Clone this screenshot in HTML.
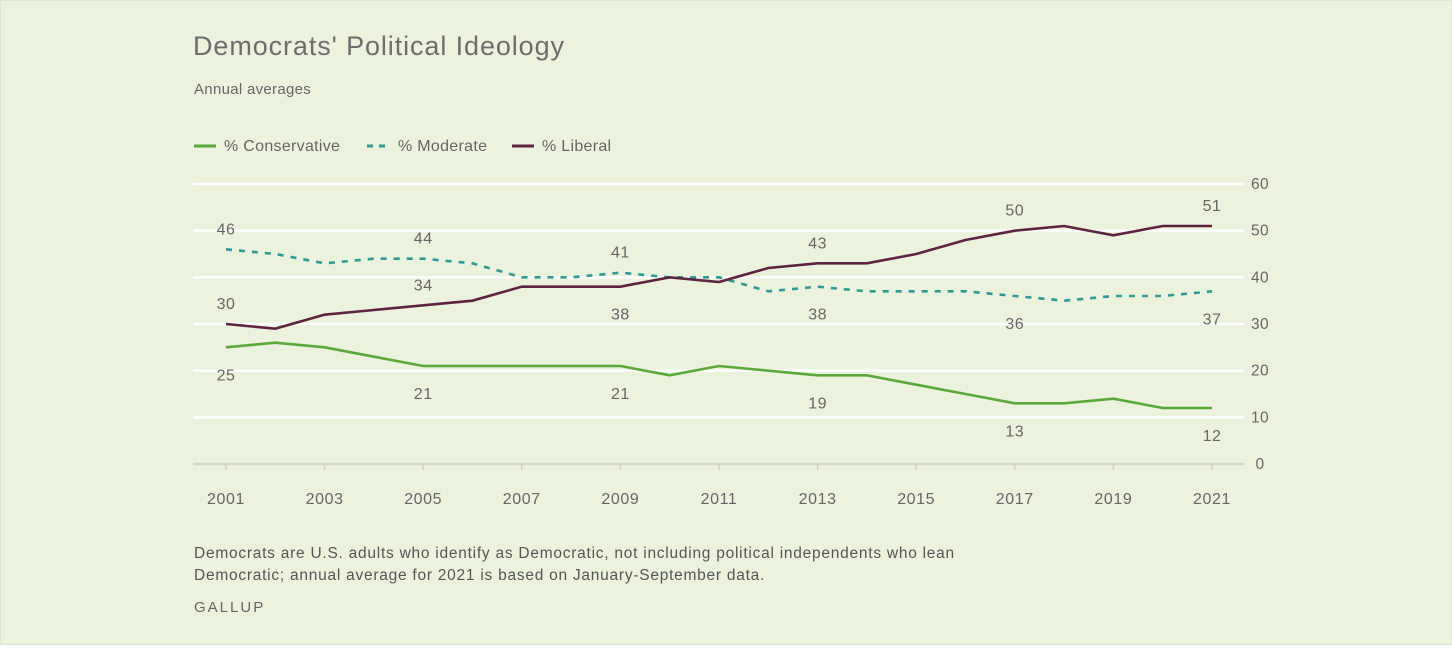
<!DOCTYPE html>
<html><head><meta charset="utf-8"><style>
body{margin:0;background:#fff}
#wrap{position:relative;width:1450px;height:643px;background:#ebf3dc;border:1px solid #dfe6d2;font-family:"Liberation Sans",sans-serif;color:#666}
svg text{font-family:"Liberation Sans",sans-serif}
</style></head><body>
<div id="wrap">
<svg width="1450" height="643">
<text x="192" y="54" font-size="27" letter-spacing="0.9" fill="#6d6d6d">Democrats' Political Ideology</text>
<text x="193" y="93" font-size="15" letter-spacing="0.3" fill="#666">Annual averages</text>
<g>
<g><line x1="193" y1="145" x2="215" y2="145" stroke="#5aaa38" stroke-width="3"/><text x="223" y="150" font-size="16" letter-spacing="0.3" fill="#666">% Conservative</text></g>
<g><line x1="366" y1="145" x2="388" y2="145" stroke="#2b9c95" stroke-width="3" stroke-dasharray="6,6"/><text x="397" y="150" font-size="16" letter-spacing="0.3" fill="#666">% Moderate</text></g>
<g><line x1="511" y1="145" x2="533" y2="145" stroke="#60233f" stroke-width="3"/><text x="541" y="150" font-size="16" letter-spacing="0.3" fill="#666">% Liberal</text></g>
</g>
<g id="grid"></g><g id="series"></g><g id="labels"></g>
</svg>
<div style="position:absolute;left:193px;top:542px;font-size:15.5px;letter-spacing:0.75px;line-height:22px;color:#555">Democrats are U.S. adults who identify as Democratic, not including political independents who lean<br>Democratic; annual average for 2021 is based on January-September data.</div>
<div style="position:absolute;left:193px;top:598px;font-size:15px;letter-spacing:2px;color:#666">GALLUP</div>
</div>
<script>
const years=[2001,2002,2003,2004,2005,2006,2007,2008,2009,2010,2011,2012,2013,2014,2015,2016,2017,2018,2019,2020,2021];
const conservative=[25,26,25,23,21,21,21,21,21,19,21,20,19,19,17,15,13,13,14,12,12];
const moderate=[46,45,43,44,44,43,40,40,41,40,40,37,38,37,37,37,36,35,36,36,37];
const liberal=[30,29,32,33,34,35,38,38,38,40,39,42,43,43,45,48,50,51,49,51,51];
const yTicks=[0,10,20,30,40,50,60];
const xTickYears=[2001,2003,2005,2007,2009,2011,2013,2015,2017,2019,2021];
const labelYears=[2001,2005,2009,2013,2017,2021];
const consPos=['b','b','b','b','b','b'];
const modPos=['a','a','a','b','b','b'];
const libPos=['a','a','b','a','a','a'];
const NS='http://www.w3.org/2000/svg';
const x=y=>225+(y-2001)*(1211-225)/20;
const yv=v=>463-v*280/60;
function mk(t,a,p){const e=document.createElementNS(NS,t);for(const k in a)e.setAttribute(k,a[k]);p.appendChild(e);return e;}
const grid=document.getElementById('grid');
yTicks.forEach(t=>{
 const l=mk('line',{x1:192,x2:1243,y1:yv(t),y2:yv(t),stroke:t===0?'#d4d8cc':'#ffffff','stroke-width':2.5},grid);
 
 
 const tx=mk('text',{x:1259,y:yv(t)+5,'font-size':15.5,'letter-spacing':0.4,fill:'#666','text-anchor':'middle'},grid);tx.textContent=t;
 
 
});
xTickYears.forEach(yr=>{
 const tk=mk('line',{x1:x(yr),x2:x(yr),y1:463,y2:469,stroke:'#cfd3c6','stroke-width':1.5},grid);
 
 
 const tx=mk('text',{x:x(yr),y:503,'font-size':16,'letter-spacing':0.6,fill:'#666','text-anchor':'middle'},grid);tx.textContent=yr;
 
 
});
const S=document.getElementById('series'),L=document.getElementById('labels');
[[conservative,'#5aaa38','',consPos,'conservative'],[moderate,'#2b9c95','6,7',modPos,'moderate'],[liberal,'#60233f','',libPos,'liberal']].forEach(([d,c,da,pos,n])=>{
 const p=mk('path',{d:d.map((v,i)=>(i?'L':'M')+x(years[i])+','+yv(v)).join(''),fill:'none',stroke:c,'stroke-width':2.6,'stroke-dasharray':da},S);
 
 
 labelYears.forEach((yr,k)=>{
  const i=years.indexOf(yr);const v=d[i];
  const ty=pos[k]==='a'?yv(v)-15:yv(v)+33;
  const t=mk('text',{x:x(yr),y:ty,'font-size':16,'letter-spacing':0.5,fill:'#666','text-anchor':'middle'},L);t.textContent=v;
  
  
 });
});
</script>
</body></html>
